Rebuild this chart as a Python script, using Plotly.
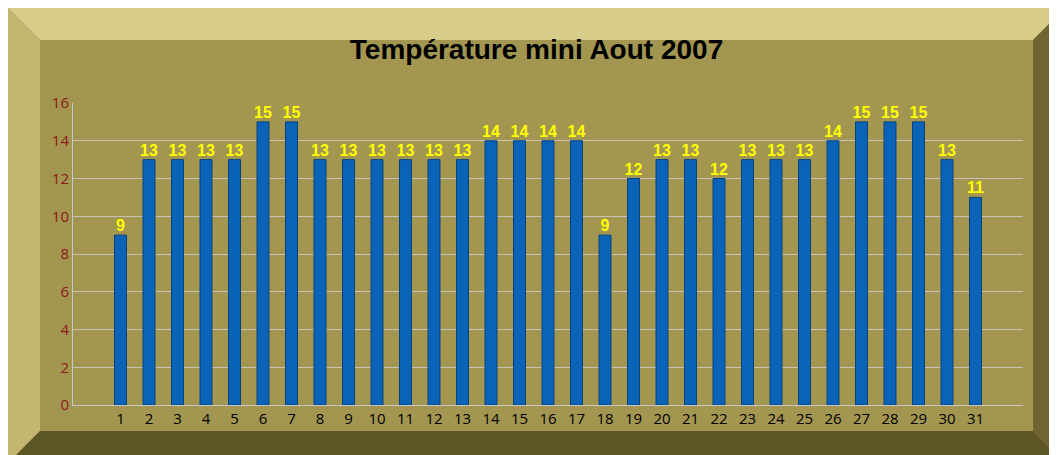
import plotly.graph_objects as go

days = [str(d) for d in range(1, 32)]
temps = [9, 13, 13, 13, 13, 15, 15, 13, 13, 13, 13, 13, 13, 14, 14, 14, 14,
         9, 12, 13, 13, 12, 13, 13, 13, 14, 15, 15, 15, 13, 11]
y_ticks = [0, 2, 4, 6, 8, 10, 12, 14, 16]

W, H = 1057, 455
L, R, T, B = 65, 42, 95, 58
pw, ph = W - L - R, H - T - B


def px(x, y):
    return (x - L) / pw, (H - B - y) / ph


def poly(pts):
    s = ""
    for i, (x, y) in enumerate(pts):
        a, b = px(x, y)
        s += ("M" if i == 0 else "L") + f"{a},{b} "
    return s + "Z"


bev = 32
outer = [(0, 0), (W, 0), (W, H), (0, H)]
inner = [(bev, bev), (W - bev, bev), (W - bev, H - bev), (bev, H - bev)]
faces = [
    ([outer[0], outer[1], inner[1], inner[0]], "#d8cc8a"),
    ([outer[0], inner[0], inner[3], outer[3]], "#c4b670"),
    ([outer[1], outer[2], inner[2], inner[1]], "#6f6530"),
    ([outer[3], inner[3], inner[2], outer[2]], "#5e5526"),
    (inner, "#a39650"),
]
shapes = [dict(type="path", path=poly(p), xref="paper", yref="paper",
               fillcolor=c, line=dict(width=0), layer="below") for p, c in faces]

fig = go.Figure()
fig.add_bar(
    x=days, y=temps, width=0.42,
    marker=dict(color="#0b63b8", line=dict(color="#06427e", width=1)),
)
fig.add_scatter(
    x=days, y=temps, mode="text", text=[f"<b>{t}</b>" for t in temps],
    textposition="top center", cliponaxis=False,
    textfont=dict(color="#ffff00", size=16, family="Liberation Sans"),
)

fig.update_layout(
    width=W, height=H,
    margin=dict(l=L, r=R, t=T, b=B),
    paper_bgcolor="#a39650", plot_bgcolor="rgba(0,0,0,0)",
    shapes=shapes,
    title=dict(text="<b>Température mini Aout 2007</b>", x=0.5, y=0.93, xanchor="center",
               font=dict(size=28, color="black", family="Liberation Sans Narrow, Liberation Sans")),
    showlegend=False,
    bargap=0.5,
)
fig.update_xaxes(tickfont=dict(size=15, color="black"), showline=True,
                 linecolor="#c8c8c8", ticks="")
fig.update_yaxes(range=[0, 16], tickvals=y_ticks, gridcolor="#c8c4b4",
                 tickfont=dict(size=15, color="#8b1a1a"), zeroline=False,
                 showline=True, linecolor="#c8c8c8")

fig.write_html("out.html")
